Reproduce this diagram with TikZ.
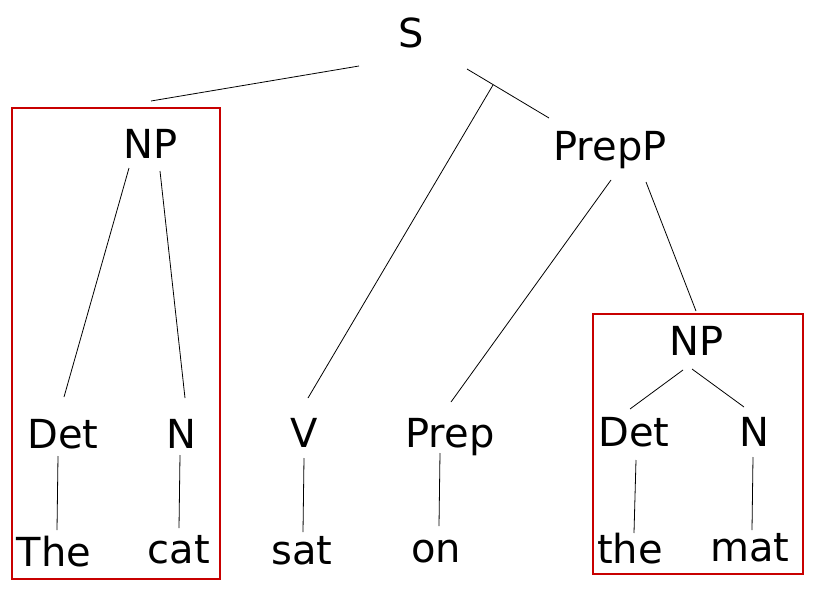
\documentclass[tikz,border=0pt]{standalone}
\usepackage{fontspec}
\setmainfont{DejaVu Sans}
\definecolor{boxred}{RGB}{200,0,0}
\begin{document}
\begin{tikzpicture}[x=1pt,y=-1pt,
  lbl/.style={anchor=base,inner sep=0pt,font=\fontsize{40}{48}\selectfont},
  edge/.style={draw=black,line width=0.8pt},
  frame/.style={draw=boxred,line width=2pt}]
\useasboundingbox (0,0) rectangle (820,597);
% text nodes
\node[lbl] (S) at (411,47) {S};
\node[lbl] (NPa) at (151,158) {NP};
\node[lbl] (PrepP) at (610,160) {PrepP};
\node[lbl] (Deta) at (63,448) {Det};
\node[lbl] (Na) at (181,448) {N};
\node[lbl] (V) at (304,447) {V};
\node[lbl] (Prep) at (450,447) {Prep};
\node[lbl] (NPb) at (697,355) {NP};
\node[lbl] (Detb) at (634,446) {Det};
\node[lbl] (Nb) at (754,446) {N};
\node[lbl] (The) at (54,566) {The};
\node[lbl] (cat) at (179,563) {cat};
\node[lbl] (sat) at (302,564) {sat};
\node[lbl] (on) at (436,562) {on};
\node[lbl] (the) at (630,563) {the};
\node[lbl] (mat) at (750,561) {mat};
% connector end points
\coordinate (S-1) at (359,66);   \coordinate (NPa-t) at (151,101);
\coordinate (S-2) at (493,85);   \coordinate (V-t) at (308,398);
\coordinate (S-3) at (467,69);   \coordinate (PrepP-t) at (549,118);
\coordinate (NPa-1) at (129,168); \coordinate (Deta-t) at (64,397);
\coordinate (NPa-2) at (160,171); \coordinate (Na-t) at (185,398);
\coordinate (PrepP-1) at (611,180); \coordinate (Prep-t) at (451,402);
\coordinate (PrepP-2) at (646,182); \coordinate (NPb-t) at (696,311);
\coordinate (NPb-1) at (683,370); \coordinate (Detb-t) at (630,409);
\coordinate (NPb-2) at (692,369); \coordinate (Nb-t) at (744,407);
\coordinate (Deta-b) at (58,456); \coordinate (The-t) at (57,530);
\coordinate (Na-b) at (180,455); \coordinate (cat-t) at (179,528);
\coordinate (V-b) at (304,458); \coordinate (sat-t) at (303,532);
\coordinate (Prep-b) at (440,453); \coordinate (on-t) at (439,526);
\coordinate (Detb-b) at (636,460); \coordinate (the-t) at (634,533);
\coordinate (Nb-b) at (753,457); \coordinate (mat-t) at (752,530);
\draw[edge] (S-1) -- (NPa-t);
\draw[edge] (S-2) -- (V-t);
\draw[edge] (S-3) -- (PrepP-t);
\draw[edge] (NPa-1) -- (Deta-t);
\draw[edge] (NPa-2) -- (Na-t);
\draw[edge] (PrepP-1) -- (Prep-t);
\draw[edge] (PrepP-2) -- (NPb-t);
\draw[edge] (NPb-1) -- (Detb-t);
\draw[edge] (NPb-2) -- (Nb-t);
\draw[edge] (Deta-b) -- (The-t);
\draw[edge] (Na-b) -- (cat-t);
\draw[edge] (V-b) -- (sat-t);
\draw[edge] (Prep-b) -- (on-t);
\draw[edge] (Detb-b) -- (the-t);
\draw[edge] (Nb-b) -- (mat-t);
% red frames
\coordinate (fa1) at (12,108); \coordinate (fa2) at (220,579);
\coordinate (fb1) at (593,314); \coordinate (fb2) at (803,574);
\draw[frame] (fa1) rectangle (fa2);
\draw[frame] (fb1) rectangle (fb2);
\end{tikzpicture}
\end{document}
